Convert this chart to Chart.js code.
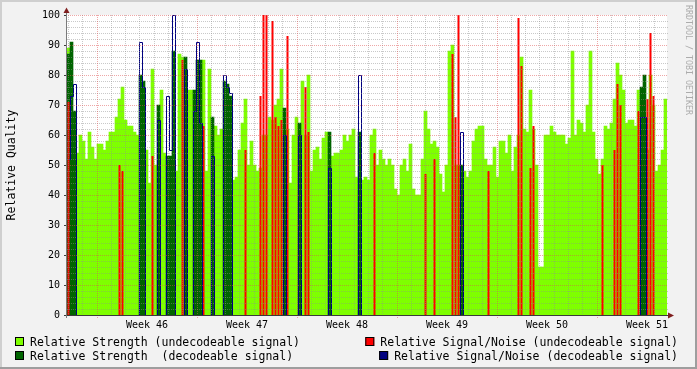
<!DOCTYPE html>
<html><head><meta charset="utf-8">
<script src="https://cdn.jsdelivr.net/npm/chart.js@4/dist/chart.umd.min.js"></script>
<style>html,body{margin:0;padding:0;background:#f2f2f2}canvas{display:block}</style>
</head><body>
<canvas id="c" width="697" height="369"></canvas>
<script>
// ---- data ----
const weekLabels = ['Week 46','Week 47','Week 48','Week 49','Week 50','Week 51'];
const weekLabelDays = [3.5, 10.5, 17.5, 24.5, 31.5, 38.5];   // label position: middle of each week (days from start of week 46)
const startDay = -2.1;    // first sample, days relative to start of week 46
const binDays = 0.21;     // consolidation step of one sample, in days

// Relative Strength (undecodeable signal), one value per sample
const strengthUndecodeable = [
 89,0,0,54,60,58,52,61,56,52, 57,57,55,58,61,61,66,72,76,65,
 63,63,61,60,0,0,55,44,82,50, 0,75,54,0,0,0,48,87,86,0,
 75,75,0,0,0,85,48,82,0,63, 60,62,0,0,0,45,46,55,64,72,
 50,58,50,48,49,60,60,66,65,70, 72,82,0,62,44,60,66,0,78,60,
 80,48,55,56,52,59,61,0,53,54, 54,55,60,58,60,62,46,0,45,46,
 45,60,62,50,55,52,50,52,50,42, 40,50,52,48,57,42,40,40,52,68,
 62,57,58,56,47,41,50,88,90,50, 50,0,48,46,48,58,62,63,63,52,
 50,50,56,46,58,58,54,60,48,56, 60,86,62,61,75,62,50,16,16,60,
 60,63,61,60,60,60,57,59,88,60, 65,64,61,70,88,61,52,47,52,63,
 62,64,72,84,80,75,64,65,65,63, 75,0,0,55,80,70,48,50,55,72
];
// [sample index, value]
const strengthDecodeable = [[0,87],[1,91],[2,68],[24,80],[25,78],[30,70],[33,53],[34,53],[35,88],[39,86],[42,75],[43,85],[44,85],[48,66],[52,78],[53,77],[54,73],[72,69],[77,64],[87,61],[97,61],[131,50],[191,76],[192,80]];
const snrUndecodeable = [[0,71],[17,50],[18,48],[28,53],[38,85],[45,63],[59,55],[64,73],[65,100],[66,100],[68,98],[69,66],[70,63],[71,65],[73,93],[79,76],[80,61],[102,54],[119,47],[122,52],[128,87],[129,66],[130,100],[140,48],[150,99],[151,83],[154,49],[155,63],[178,50],[182,55],[183,77],[184,70],[190,68],[193,72],[194,94],[195,73]];
const snrDecodeable = [[0,52],[1,73],[2,77],[24,91],[25,76],[30,65],[33,73],[34,55],[35,100],[39,82],[42,68],[43,91],[44,64],[48,53],[52,80],[53,76],[54,74],[72,60],[77,60],[87,49],[97,80],[131,61],[191,66],[192,66]];

// ---- build ----
const N = strengthUndecodeable.length;
const binX = i => startDay + (i + 0.5) * binDays;
const lgData = strengthUndecodeable.map((v, i) => ({x: binX(i), y: v}));
const dgData = strengthDecodeable.map(([i, v]) => ({x: binX(i), y: v}));
const rdData = snrUndecodeable.map(([i, v]) => ({x: binX(i), y: v}));
const blFull = new Array(N).fill(0);
snrDecodeable.forEach(([i, v]) => { blFull[i] = v; });
const blData = blFull.map((v, i) => ({x: binX(i), y: v}));

const FONT = '"DejaVu Sans Mono", "Liberation Mono", monospace';
const C = {
  back: '#f2f2f2', canvas: '#ffffff', shadeA: '#cfcfcf', shadeB: '#9e9e9e',
  grid: 'rgba(143,143,143,0.48)', mgrid: 'rgba(222,79,79,0.5)',
  arrow: '#801f1f', axis: '#3a3a3a',
  lg: '#7fff00', dg: '#006400', rd: '#ff0000', bl: '#000080'
};

function seg(ctx, x0, y0, x1, y1) { ctx.beginPath(); ctx.moveTo(x0, y0); ctx.lineTo(x1, y1); ctx.stroke(); }

const rrdPlugin = {
  id: 'rrd',
  beforeDraw(chart) {
    const {ctx, chartArea: a} = chart;
    ctx.save();
    ctx.fillStyle = C.back; ctx.fillRect(0, 0, chart.width, chart.height);
    ctx.fillStyle = C.canvas; ctx.fillRect(a.left, a.top, a.right - a.left, a.bottom - a.top);
    ctx.restore();
  },
  beforeDatasetDraw(chart, args) {
    if (args.meta.type === 'line') { chart.ctx.save(); chart.ctx.translate(0.5, 0.5); }
  },
  afterDatasetDraw(chart, args) {
    if (args.meta.type === 'line') chart.ctx.restore();
  },
  afterDatasetsDraw(chart) {
    const {ctx, chartArea: a, scales: {x, y}} = chart;
    ctx.save();
    ctx.lineWidth = 1;
    ctx.setLineDash([1, 1]);
    ctx.strokeStyle = C.grid;
    for (let v = 2; v < 100; v += 2) {
      if (v % 10 === 0) continue;
      const py = Math.round(y.getPixelForValue(v)) + 0.5;
      seg(ctx, a.left, py, a.right + 1, py);
    }
    for (let d = Math.ceil(x.min); d <= x.max; d++) {
      if (d % 7 === 0) continue;
      const px = Math.floor(x.getPixelForValue(d)) + 0.5;
      seg(ctx, px, a.top, px, a.bottom);
    }
    ctx.strokeStyle = C.mgrid;
    for (let v = 10; v <= 100; v += 10) {
      const py = Math.round(y.getPixelForValue(v)) + 0.5;
      seg(ctx, a.left - 3, py, a.right + 1, py);
    }
    for (let d = Math.ceil(x.min); d <= x.max; d++) {
      if (d % 7 !== 0) continue;
      const px = Math.floor(x.getPixelForValue(d)) + 0.5;
      seg(ctx, px, a.top, px, a.bottom + 3);
    }
    ctx.setLineDash([]);
    ctx.strokeStyle = C.axis;
    const ax = a.left - 0.5, ay = a.bottom + 0.5;
    seg(ctx, a.left - 3, ay, a.right + 4, ay);
    ctx.strokeStyle = '#7a7a7a';
    seg(ctx, ax, a.bottom + 3, ax, a.top - 3);
    ctx.strokeStyle = C.axis;
    for (let v = 0; v <= 100; v += 10) {
      const py = Math.round(y.getPixelForValue(v)) + 0.5;
      seg(ctx, a.left - 3, py, a.left - 1, py);
    }
    ctx.fillStyle = C.arrow;
    ctx.beginPath(); ctx.moveTo(a.left - 3.5, a.top - 2); ctx.lineTo(a.left + 2.5, a.top - 2); ctx.lineTo(a.left - 0.5, a.top - 7.5); ctx.closePath(); ctx.fill();
    ctx.beginPath(); ctx.moveTo(a.right + 1, a.bottom - 2.5); ctx.lineTo(a.right + 1, a.bottom + 3.5); ctx.lineTo(a.right + 7, a.bottom + 0.5); ctx.closePath(); ctx.fill();
    ctx.restore();
  },
  afterDraw(chart) {
    const ctx = chart.ctx;
    const ds = chart.data.datasets;
    ctx.save();
    ctx.font = '11.5px ' + FONT;
    ctx.textBaseline = 'alphabetic';
    const box = (bx, by, col) => {
      ctx.fillStyle = col; ctx.fillRect(bx, by, 9, 9);
      ctx.strokeStyle = '#000'; ctx.lineWidth = 1; ctx.strokeRect(bx + 0.5, by + 0.5, 8, 8);
    };
    const rows = [337, 351];
    [ds[0], ds[1]].forEach((d, r) => {
      box(15, rows[r], d.backgroundColor);
      ctx.fillStyle = '#000'; ctx.textAlign = 'left';
      ctx.fillText(d.label, 30, rows[r] + 8.5);
    });
    [ds[2], ds[3]].forEach((d, r) => {
      const w = ctx.measureText(d.label).width;
      const tx = 678 - w;
      box(tx - 15, rows[r], d.legendColor || d.backgroundColor);
      ctx.fillStyle = '#000'; ctx.textAlign = 'left';
      ctx.fillText(d.label, tx, rows[r] + 8.5);
    });
    ctx.save();
    ctx.translate(688, 5);
    ctx.rotate(Math.PI / 2);
    ctx.font = '8.3px ' + FONT;
    ctx.fillStyle = '#acacac';
    ctx.textAlign = 'left'; ctx.textBaseline = 'middle';
    ctx.fillText('RRDTOOL / TOBI OETIKER', 0, 0);
    ctx.restore();
    ctx.fillStyle = C.shadeA;
    ctx.fillRect(0, 0, chart.width, 2); ctx.fillRect(0, 0, 2, chart.height);
    ctx.fillStyle = C.shadeB;
    ctx.fillRect(0, chart.height - 2, chart.width, 2); ctx.fillRect(chart.width - 2, 0, 2, chart.height);
    ctx.restore();
  }
};

new Chart(document.getElementById('c'), {
  type: 'bar',
  data: {
    datasets: [
      { label: 'Relative Strength (undecodeable signal)', data: lgData, backgroundColor: C.lg, order: 4 },
      { label: 'Relative Strength  (decodeable signal)', data: dgData, backgroundColor: C.dg, order: 3 },
      { label: 'Relative Signal/Noise (undecodeable signal)', data: rdData, backgroundColor: C.rd, order: 2,
        barThickness: 2, inflateAmount: 0 },
      { label: 'Relative Signal/Noise (decodeable signal)', type: 'line', data: blData, borderColor: C.bl,
        backgroundColor: C.bl, legendColor: C.bl, borderWidth: 1, pointRadius: 0, stepped: 'middle', fill: false,
        tension: 0, clip: false, order: 1 }
    ]
  },
  options: {
    responsive: false,
    animation: false,
    devicePixelRatio: 1,
    layout: { padding: { left: 0, right: 30, top: 15, bottom: 0 } },
    datasets: { bar: { grouped: false, barPercentage: 1, categoryPercentage: 1, borderWidth: 0 } },
    plugins: { legend: { display: false }, tooltip: { enabled: false } },
    scales: {
      x: {
        type: 'linear',
        offset: false,
        min: startDay,
        max: startDay + N * binDays,
        grid: { display: false, drawTicks: false, offset: false },
        border: { display: false },
        afterBuildTicks: s => { s.ticks = weekLabelDays.map(v => ({ value: v })); },
        afterFit: s => { s.height = 54; },
        ticks: {
          autoSkip: false, maxRotation: 0, padding: 4, color: '#000',
          font: { family: FONT, size: 10 },
          callback: (v, i) => weekLabels[i]
        }
      },
      y: {
        min: 0, max: 100,
        grid: { display: false, drawTicks: false },
        border: { display: false },
        afterFit: s => { s.width = 67; },
        ticks: { stepSize: 10, padding: 7, color: '#000', font: { family: FONT, size: 10 } },
        title: { display: true, text: 'Relative Quality', color: '#000', font: { family: FONT, size: 11.5 }, padding: { top: 5, bottom: 0 } }
      }
    }
  },
  plugins: [rrdPlugin]
});
</script>
</body></html>
